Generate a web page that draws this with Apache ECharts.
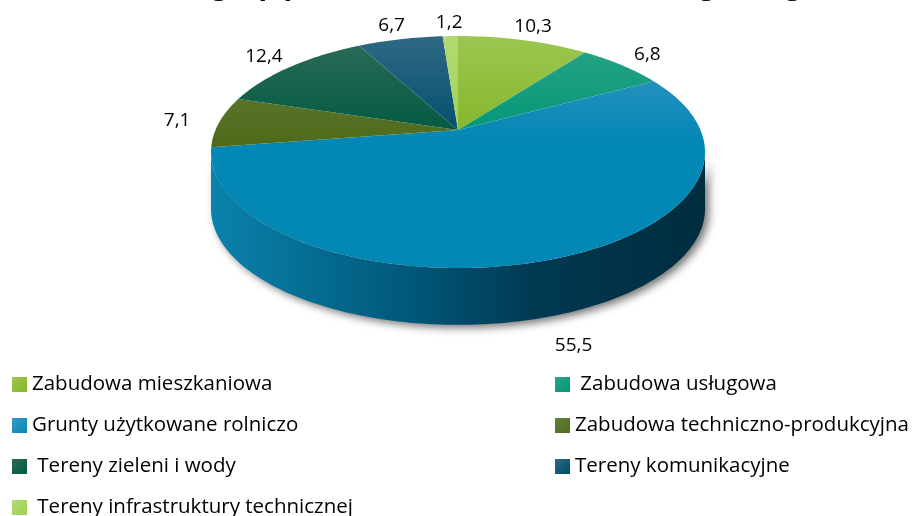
<!DOCTYPE html>
<html>
<head>
<meta charset="utf-8">
<script src="https://cdn.jsdelivr.net/npm/echarts@6/dist/echarts.min.js"></script>
<style>
  html, body { margin: 0; padding: 0; background: #fff; }
  #main { width: 916px; height: 516px; }
</style>
</head>
<body>
<div id="main"></div>
<script>
// dane
const chartTitle = 'Struktura grup przeznaczenia terenów według kategorii';
const categories = [
  'Zabudowa mieszkaniowa',
  ' Zabudowa usługowa',
  'Grunty użytkowane rolniczo',
  'Zabudowa techniczno-produkcyjna',
  ' Tereny zieleni i wody',
  'Tereny komunikacyjne',
  ' Tereny infrastruktury technicznej'
];
const values = [10.3, 6.8, 55.5, 7.1, 12.4, 6.7, 1.2];

// kolory: jasny (góra) i bazowy
const lightColors = ['#9cc650', '#2ba386', '#3c98c3', '#657f3c', '#2c6b57', '#2f6984', '#b4da74'];
const baseColors  = ['#84b628', '#009777', '#0387b5', '#4f6c1c', '#005942', '#004d6b', '#a0cf56'];

const chart = echarts.init(document.getElementById('main'));

// perspektywa (pochylenie tarczy)
const P = 0.19;
const K = Math.sqrt(1 - P * P);
const DEPTH = 0.49; // grubość w jednostkach osi y

const total = values.reduce((a, b) => a + b, 0);
const cum = [0];
values.forEach((v, i) => cum.push(cum[i] + v / total));

function proj(theta, r) {
  const X = r * Math.cos(theta), Y = r * Math.sin(theta);
  const z = 1 + P * Y;
  return [X / z * K, Y / z * (1 - P * P) + P];
}

const sideLo = -Math.PI + Math.asin(P);
const sideHi = -Math.asin(P);

function renderSlice(i) {
  return function (params, api) {
    const a0 = Math.PI / 2 - cum[i] * 2 * Math.PI;
    const a1 = Math.PI / 2 - cum[i + 1] * 2 * Math.PI;
    const children = [];
    const yTop = api.coord([0, 1])[1], yBot = api.coord([0, -1])[1];
    const xL = api.coord([-1, 0])[0], xR = api.coord([1, 0])[0];

    // ściana boczna
    const s0 = Math.min(a0, sideHi), s1 = Math.max(a1, sideLo);
    if (s0 > s1) {
      const n = Math.max(4, Math.ceil((s0 - s1) / 0.02));
      const up = [], down = [];
      for (let k = 0; k <= n; k++) {
        const t = s0 + (s1 - s0) * k / n;
        const p = proj(t, 1);
        up.push(api.coord(p));
        down.push(api.coord([p[0], p[1] - DEPTH]));
      }
      children.push({
        type: 'polygon',
        z2: 1,
        shape: { points: up.concat(down.reverse()) },
        style: {
          fill: new echarts.graphic.LinearGradient(xL, 0, xR, 0, [
            { offset: 0, color: '#0a82ac' },
            { offset: 0.4, color: '#00587a' },
            { offset: 0.65, color: '#003a52' },
            { offset: 1, color: '#002c3e' }
          ], true),
          shadowColor: 'rgba(0,0,0,0.55)',
          shadowBlur: 8,
          shadowOffsetX: 4,
          shadowOffsetY: 3
        }
      });
    }

    // wierzch
    const n = Math.max(4, Math.ceil((a0 - a1) / 0.02));
    const pts = [api.coord(proj(0, 0))];
    for (let k = 0; k <= n; k++) {
      pts.push(api.coord(proj(a0 + (a1 - a0) * k / n, 1)));
    }
    children.push({
      type: 'polygon',
      z2: 2,
      shape: { points: pts },
      style: {
        fill: new echarts.graphic.LinearGradient(0, yTop, 0, yBot, [
          { offset: 0, color: lightColors[i] },
          { offset: 0.45, color: baseColors[i] },
          { offset: 1, color: baseColors[i] }
        ], true)
      }
    });

    // etykieta wartości
    const mid = (a0 + a1) / 2;
    const lp = proj(mid, 1.18);
    if (Math.sin(mid) < -P) lp[1] -= DEPTH;
    const c = api.coord(lp);
    children.push({
      type: 'text',
      z2: 3,
      style: {
        text: String(values[i]).replace('.', ','),
        x: c[0],
        y: c[1],
        align: 'center',
        verticalAlign: 'middle',
        fill: '#000',
        fontSize: 19,
        fontFamily: 'Open Sans'
      }
    });
    return { type: 'group', children: children };
  };
}

const series = categories.map((name, i) => ({
  name: name,
  type: 'custom',
  coordinateSystem: 'cartesian2d',
  clip: false,
  silent: true,
  z: i === 2 ? 1 : 2,
  itemStyle: {
    color: new echarts.graphic.LinearGradient(0, 0, 1, 1, [
      { offset: 0, color: lightColors[i] },
      { offset: 1, color: baseColors[i] }
    ])
  },
  renderItem: renderSlice(i),
  data: [[0, 0]]
}));

const legendText = { fontSize: 20.5, fontFamily: 'Open Sans', color: '#000', lineHeight: 20 };

const option = {
  animation: false,
  title: {
    text: chartTitle,
    left: 'center',
    top: -33,
    textStyle: { fontSize: 28, fontWeight: 'bold', fontFamily: 'Open Sans', color: '#000' }
  },
  grid: { left: 211, top: 36, width: 494, height: 232 },
  xAxis: { type: 'value', min: -1, max: 1, show: false },
  yAxis: { type: 'value', min: -1, max: 1, show: false },
  legend: [
    {
      data: [categories[0], categories[2], categories[4], categories[6]],
      orient: 'vertical',
      left: 12, top: 374, height: 160, padding: 0,
      itemWidth: 15, itemHeight: 15, itemGap: 20,
      icon: 'rect',
      selectedMode: false,
      textStyle: legendText
    },
    {
      data: [categories[1], categories[3], categories[5]],
      orient: 'vertical',
      left: 555, top: 374, height: 160, padding: 0,
      itemWidth: 15, itemHeight: 15, itemGap: 20,
      icon: 'rect',
      selectedMode: false,
      textStyle: legendText
    }
  ],
  series: series
};

chart.setOption(option);
</script>
</body>
</html>
